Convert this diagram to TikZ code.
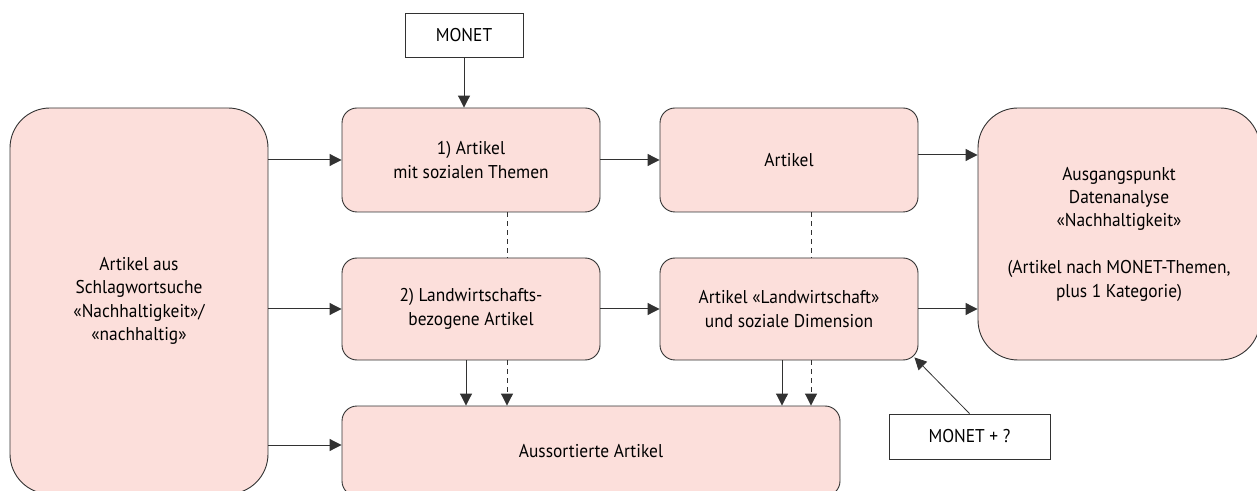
\documentclass[tikz,border=0pt]{standalone}
\usepackage{fontspec}
\setmainfont[FakeStretch=0.94]{PT Sans}
\usetikzlibrary{arrows.meta,calc}
\definecolor{boxfill}{RGB}{252,223,219}
\definecolor{edge}{RGB}{50,50,50}
\begin{document}
\begin{tikzpicture}[x=1pt,y=1pt,
  txt/.style={font=\fontsize{18.5}{23.4}\selectfont, align=center, text=black},
  pinkbox/.style={txt, draw=edge, line width=0.9pt, fill=boxfill, rounded corners=15pt, inner sep=0pt},
  bigbox/.style={pinkbox, rounded corners=40pt},
  whitebox/.style={txt, draw=edge, line width=0.9pt, fill=white, inner sep=0pt},
  arr/.style={draw=edge, line width=1pt, -{Triangle[length=12pt,width=12pt]}},
  dashln/.style={draw=edge, line width=1pt, dash pattern=on 5pt off 4pt},
]
\useasboundingbox (0,0) rectangle (1257,490);
\begin{scope}
\clip (0,0) rectangle (1257,490);
% nodes
\node[whitebox, minimum width=118pt, minimum height=44pt] (monet) at (464,455) {MONET};
\node[bigbox, minimum width=258pt, minimum height=386pt] (left) at (139,189)
  {Artikel aus\\Schlagwortsuche\\«Nachhaltigkeit»/\\«nachhaltig»};
\node[pinkbox, minimum width=258pt, minimum height=104pt] (b1) at (471,330)
  {1) Artikel\\mit sozialen Themen};
\node[pinkbox, minimum width=258pt, minimum height=104pt] (art) at (789,330) {Artikel};
\node[bigbox, minimum width=282pt, minimum height=252pt] (right) at (1119,256)
  {Ausgangspunkt\\Datenanalyse\\«Nachhaltigkeit»\\[23.4pt](Artikel nach MONET-Themen,\\plus 1 Kategorie)};
\node[pinkbox, minimum width=258pt, minimum height=102pt] (b2) at (471,181)
  {2) Landwirtschafts-\\bezogene Artikel};
\node[pinkbox, minimum width=258pt, minimum height=102pt] (b3) at (789,181)
  {Artikel «Landwirtschaft»\\und soziale Dimension};
\node[pinkbox, minimum width=498pt, minimum height=90pt] (aus) at (591,39) {Aussortierte Artikel};
\node[whitebox, minimum width=161pt, minimum height=45pt] (mq) at (969.5,53.5) {MONET + ?};
% helper coordinates
\coordinate (ausin) at ($(aus.west)+(0,6)$);
\coordinate (rin) at ($(art.east)+(0,5)$);
\coordinate (b2s) at ($(b2.south)+(-5,0)$);
\coordinate (b2d) at ($(b2.south)+(36,0)$);
\coordinate (b3s) at ($(b3.south)+(-7,0)$);
\coordinate (b3d) at ($(b3.south)+(22,0)$);
\coordinate (b1d) at ($(b1.south)+(36,0)$);
\coordinate (artd) at ($(art.south)+(22,0)$);
\coordinate (tipq) at ($(b3.south east)+(-4,3)$);
% connectors
\draw[arr] (monet.south) -- (monet.south |- b1.north);
\draw[arr] (left.east |- b1.west) -- (b1.west);
\draw[arr] (left.east |- b2.west) -- (b2.west);
\draw[arr] (left.east |- ausin) -- (ausin);
\draw[arr] (b1.east) -- (art.west);
\draw[arr] (rin) -- (rin -| right.west);
\draw[arr] (b2.east) -- (b3.west);
\draw[arr] (b3.east) -- (b3.east -| right.west);
\draw[dashln] (b1d) -- (b1d |- b2.north);
\draw[dashln] (artd) -- (artd |- b3.north);
\draw[arr] (b2s) -- (b2s |- aus.north);
\draw[arr, dash pattern=on 5pt off 4pt] (b2d) -- (b2d |- aus.north);
\draw[arr] (b3s) -- (b3s |- aus.north);
\draw[arr, dash pattern=on 5pt off 4pt] (b3d) -- (b3d |- aus.north);
\draw[arr, line width=0.8pt] (mq.north) -- (tipq);
\end{scope}
\end{tikzpicture}
\end{document}
